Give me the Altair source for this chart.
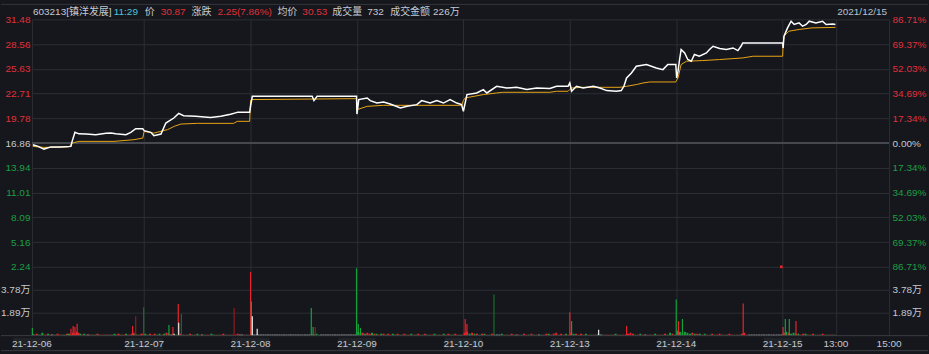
import json
import altair as alt
import pandas as pd

# ---------------- data ----------------
dates = ["21-12-06", "21-12-07", "21-12-08", "21-12-09", "21-12-10", "21-12-13", "21-12-14", "21-12-15"]
session_start = [-13, 240, 480, 720, 960, 1200, 1440, 1680]   # minute index of each session open
session_end = [240, 480, 720, 960, 1200, 1440, 1680, 1800]
time_ticks = [1800, 1920]
time_labels = ["13:00", "15:00"]
x_domain = [-13, 1920]

prev_close = 16.86
price_ticks = [2.24, 5.164, 8.088, 11.012, 13.936, 16.86, 19.784, 22.708, 25.632, 28.556, 31.48]
vol_ticks = [18900, 37800]
vol_max = 56700

# price line (t = minute index, p = price)
d1_t = [-11, 1, 14, 30, 52, 75, 77, 84, 93, 109, 131, 154, 165, 176, 199, 210, 221, 237]
d1_p = [16.67, 16.47, 16.15, 16.41, 16.41, 16.47, 16.94, 18.13, 17.95, 17.92, 17.85, 18.01, 18.04, 17.95, 17.85, 18.13, 18.56, 18.54]
d2_t = [240, 255, 262, 278, 289, 307, 318, 329, 356, 390, 413, 435, 446, 451, 478]
d2_p = [18.33, 18.13, 17.74, 17.93, 19.23, 19.82, 20.37, 20.10, 20.02, 19.87, 20.02, 20.26, 20.43, 20.49, 20.49]
d3_t = [480, 484, 619, 623, 630, 719]
d3_p = [21.20, 22.39, 22.39, 21.88, 22.39, 22.39]
d4_t = [720, 724, 743, 750, 765, 780, 795, 818, 833, 855, 866, 885, 900, 915, 930, 945, 956]
d4_p = [20.29, 22.00, 22.19, 21.88, 21.59, 21.71, 21.48, 21.00, 21.20, 21.40, 21.88, 21.59, 21.88, 21.59, 22.00, 21.59, 21.40]
d5_t = [960, 968, 990, 1005, 1013, 1035, 1058, 1080, 1103, 1125, 1155, 1170, 1196]
d5_p = [20.61, 22.59, 22.78, 23.18, 22.78, 23.57, 23.37, 23.45, 23.18, 23.37, 23.30, 23.57, 23.57]
d6_t = [1200, 1204, 1215, 1230, 1253, 1268, 1283, 1305, 1316, 1322, 1328, 1339, 1350, 1373, 1395, 1410, 1421, 1439]
d6_p = [23.96, 22.98, 23.57, 23.37, 23.57, 23.37, 23.06, 22.98, 23.06, 23.57, 24.55, 25.14, 25.94, 26.14, 25.74, 25.54, 26.14, 26.14]
d7_t = [1441, 1444, 1447, 1451, 1459, 1466, 1474, 1481, 1492, 1508, 1515, 1523, 1538, 1553, 1568, 1579, 1586, 1590, 1680]
d7_p = [24.55, 25.35, 26.53, 27.91, 27.51, 26.73, 26.53, 27.32, 27.12, 27.51, 27.91, 28.30, 28.03, 27.91, 28.10, 27.79, 28.30, 28.69, 28.69]
d8_t = [1681, 1683, 1691, 1699, 1706, 1717, 1725, 1733, 1740, 1755, 1770, 1778, 1793, 1799]
d8_p = [28.10, 29.49, 30.47, 31.26, 30.87, 31.06, 30.67, 30.87, 31.26, 31.06, 31.26, 30.87, 30.94, 30.87]

# average price line
a1_t = [-11, 14, 70, 79, 93, 172, 217, 237]
a1_p = [16.47, 16.35, 16.41, 16.88, 17.06, 17.06, 17.26, 17.45]
a2_t = [240, 262, 293, 308, 323, 360, 442, 450, 478]
a2_p = [18.24, 18.04, 18.45, 18.84, 19.11, 19.19, 19.19, 19.43, 19.43]
a3_t = [480, 484, 719]
a3_p = [21.90, 22.00, 22.11]
a4_t = [720, 743, 780, 956]
a4_p = [20.81, 21.20, 21.32, 21.32]
a5_t = [960, 964, 1005, 1035, 1049, 1155, 1170, 1196]
a5_p = [21.90, 22.19, 22.59, 22.78, 22.86, 22.86, 22.98, 22.98]
a6_t = [1200, 1204, 1230, 1313, 1328, 1350, 1365, 1380, 1439]
a6_p = [23.20, 23.37, 23.45, 23.45, 23.57, 23.77, 23.96, 24.08, 24.08]
a7_t = [1441, 1444, 1451, 1463, 1500, 1538, 1590, 1613, 1680]
a7_p = [24.30, 24.55, 26.14, 26.53, 26.61, 26.73, 26.92, 27.12, 27.12]
a8_t = [1681, 1683, 1694, 1717, 1746, 1799]
a8_p = [28.50, 29.49, 30.08, 30.28, 30.47, 30.53]

# per-minute volume strip, read per day as (height digit, colour letter) pairs; 1 unit = 800 shares
vol_unit = 800
vol_days = [
    "2g1r2r1g1g3g1r1r2g1r1w1g1r2r1r1r1g1g2r2g1r3r2r4r3r2g1r2g1r1w1r1g1r1g2r1g1r1r1g1r1g1r1g2g1r2r1g1r1r2g1r1r2r3r2g1r1g2r2r",
    "2g1g2r1r2r1g2g1r2g3r2r1w2w1g1r2r1g1r1g2r1g1r2g1r1w1g1r1r2g1g1r1g1r2r1g1r1g1r1r2r1w1w1r1g1r",
    "1w1w1w1w1w1w1w1w1w1w1w1w1w1w1w1w1w1w1w1w1w1w1w1w1w1w1w1w2g1g1w1w1w1w1w1w1w1w1w1w1w1w1w1w1w1w",
    "4g3g3r2g3r2r3g2r2g1r2g2r1g2r1r2g1g2r1g1r2r1g1r2g1r1g2r1r1g2r1g1r1r2g1r1g1r2g1r2r1g1g2r1r1g1r",
    "3r4r2g3r2g2r1g2r2g1r1g2r1w1w1w2g1r1g1r2r1g1w1r1g2r1r1g2r1g1r1w1g1r2r2g1r2r3r1g2r1r2g1r",
    "3r2g2r1g2r1r2g1r1g1r1g2r1w1g1r1r1g1r2g1r1g1r1r2r3r2r1g1r2g1r1w1r1g1r2g1r1r1g2r1g3g2r1g",
    "5g4g3g4g3g2g3r2g2r2g1r2g1r1g2r1g1r2r1g1r1g2r1r1g1r1g2r3r1r1w1w1w1w1w1w1w1w1w1w1w1w1w1w",
    "3r4g3r2g3g2r2g1r2r2g1r1g2r1g1r1g2r1r1g1r1g1r",
]
# individual tall volume bars (minute index, volume, colour letter)
spike_t = [-12, 75, 80, 84, 89, 214, 221, 239, 296, 305, 317, 318, 324, 443,
           480, 482, 484, 495, 617, 621, 626, 719, 723, 728, 964, 968, 1029,
           1200, 1204, 1265, 1328, 1440, 1445, 1454, 1591, 1681, 1686, 1695, 1710]
spike_v = [6400, 5600, 8000, 7200, 9900, 8000, 16000, 23300, 8800, 7200, 26000, 10700, 17900, 22700,
           52300, 28100, 16000, 5600, 22700, 7200, 7200, 55500, 9600, 6400, 13700, 9600, 33800,
           19300, 12000, 4800, 8000, 29700, 12000, 13700, 26500, 7200, 13700, 13700, 12000]
spike_c = ["g", "r", "r", "r", "r", "r", "R", "G", "g", "r", "r", "w", "G", "R",
           "r", "g", "w", "w", "g", "g", "R", "g", "g", "g", "r", "r", "G",
           "r", "g", "w", "r", "g", "r", "g", "r", "r", "g", "g", "r"]
# small red marker near the top of the volume pane before the last session
marker_t = [1677]
marker_v = [56700]

header_items = [
    ("603213[镇洋发展]", "#c5c9d0"), ("11:29", "#4cc3d9"), ("价", "#c5c9d0"), ("30.87", "#e0303a"),
    ("涨跌", "#c5c9d0"), ("2.25(7.86%)", "#e0303a"), ("均价", "#c5c9d0"), ("30.53", "#e0303a"),
    ("成交量", "#c5c9d0"), ("732", "#c5c9d0"), ("成交金额", "#c5c9d0"), ("226万", "#c5c9d0"),
]
header_date = "2021/12/15"

# ---------------- styling / layout ----------------
RED = "#e0303a"
GREEN = "#1d9f45"
GRAY = "#c5c9d0"
BG = "#15171c"
GRID = "#2b2e34"
FONT = "Liberation Sans, Noto Sans CJK SC, sans-serif"
BAR_COLORS = {"r": "#e8242c", "g": "#16a03a", "w": "#e6e6e6", "R": "#8e1c1f", "G": "#1d6a2e"}
header_x = [1, 82, 113, 129, 160, 186, 246, 271, 301, 336, 359, 402]
W, HP, HV = 859, 248, 69

price_df = pd.concat([pd.DataFrame({"t": t, "price": p}) for t, p in [
    (d1_t, d1_p), (d2_t, d2_p), (d3_t, d3_p), (d4_t, d4_p),
    (d5_t, d5_p), (d6_t, d6_p), (d7_t, d7_p), (d8_t, d8_p)]], ignore_index=True)
avg_df = pd.concat([pd.DataFrame({"t": t, "avg": p}) for t, p in [
    (a1_t, a1_p), (a2_t, a2_p), (a3_t, a3_p), (a4_t, a4_p),
    (a5_t, a5_p), (a6_t, a6_p), (a7_t, a7_p), (a8_t, a8_p)]], ignore_index=True)

rows = []
for s, e, code in zip(session_start, session_end, vol_days):
    pairs = [(int(code[i]), code[i + 1]) for i in range(0, len(code), 2)]
    n = len(pairs)
    for i, (h, c) in enumerate(pairs):
        rows.append({"t": s + (i + 0.5) * (e - s) / n, "v": h * vol_unit, "v0": 0, "c": BAR_COLORS[c]})
vol_df = pd.DataFrame(rows)
spike_df = pd.DataFrame({"t": spike_t, "v": spike_v, "v0": 0, "c": [BAR_COLORS[c] for c in spike_c]})
marker_df = pd.DataFrame({"t": marker_t, "v": marker_v})

x_values = session_start + time_ticks
x_labels = dates + time_labels
label_df = pd.DataFrame({"t": x_values, "label": x_labels})
box_df = pd.DataFrame({"a": [s - 42 for s in session_start], "b": [s + 42 for s in session_start]})

xs = alt.Scale(domain=x_domain, nice=False, zero=False)
ys = alt.Scale(domain=[price_ticks[0], price_ticks[-1]], nice=False, zero=False)
vs = alt.Scale(domain=[0, vol_max], nice=False, zero=False)

price_color = {"condition": [{"test": f"datum.value > {prev_close + 0.01}", "value": RED},
                             {"test": f"datum.value < {prev_close - 0.01}", "value": GREEN}],
               "value": GRAY}

x_grid = alt.Axis(values=x_values, grid=True, gridColor=GRID, labels=False, ticks=False,
                  domain=False, title=None)
y_left = alt.Axis(values=price_ticks, format=".2f", grid=True, gridColor=GRID, ticks=False, domain=False,
                  title=None, labelPadding=2, labelFontSize=10, labelFont=FONT, labelColor=price_color,
                  minExtent=31, maxExtent=31)
y_right = alt.Axis(orient="right", values=price_ticks, grid=False, ticks=False, domain=False, title=None,
                   labelExpr=f"format(abs(datum.value - {prev_close}) / {prev_close} * 100, '.2f') + '%'",
                   labelPadding=3, labelFontSize=10, labelFont=FONT, labelColor=price_color,
                   minExtent=36, maxExtent=36)
v_left = alt.Axis(values=vol_ticks, labelExpr="format(datum.value / 10000, '.2f') + '万'", grid=True,
                  gridColor=GRID, ticks=False, domain=False, title=None, labelPadding=2, labelFontSize=10,
                  labelFont=FONT, labelColor=GRAY, minExtent=31, maxExtent=31)
v_right = alt.Axis(orient="right", values=vol_ticks, labelExpr="format(datum.value / 10000, '.2f') + '万'",
                   grid=False, ticks=False, domain=False, title=None, labelPadding=3, labelFontSize=10,
                   labelFont=FONT, labelColor=GRAY, minExtent=36, maxExtent=36)

one = pd.DataFrame({"k": [0]})

zero_rule = alt.Chart(pd.DataFrame({"p": [prev_close]})).mark_rule(color="#45484e", strokeWidth=2).encode(
    y=alt.Y("p:Q", scale=ys, axis=None))
avg_line = alt.Chart(avg_df).mark_line(color="#e8a416", strokeWidth=1).encode(
    x=alt.X("t:Q", scale=xs, axis=x_grid), y=alt.Y("avg:Q", scale=ys, axis=y_right))
price_line = alt.Chart(price_df).mark_line(color="#ffffff", strokeWidth=1.5).encode(
    x=alt.X("t:Q", scale=xs, axis=x_grid), y=alt.Y("price:Q", scale=ys, axis=y_left))

top_line = alt.Chart(one).mark_rule(color="#33363c").encode(
    x=alt.value(-31), x2=alt.value(898), y=alt.value(-15))
header_layers = [
    alt.Chart(one).mark_text(
        text=txt, color=col, align="left", baseline="middle", fontSize=10, font=FONT
    ).encode(x=alt.value(hx), y=alt.value(-7))
    for (txt, col), hx in zip(header_items, header_x)
]
date_text = alt.Chart(one).mark_text(
    text=header_date, color="#b8c0cc", align="right", baseline="middle", fontSize=10, font=FONT
).encode(x=alt.value(857), y=alt.value(-7))

price_chart = alt.layer(zero_rule, avg_line, price_line, top_line, date_text, *header_layers).resolve_scale(
    y="independent").properties(width=W, height=HP)

boxes = alt.Chart(box_df).mark_rect(color="#202328").encode(
    x=alt.X("a:Q", scale=xs, axis=x_grid), x2="b:Q", y=alt.value(HV + 2), y2=alt.value(HV + 14))
tick_text = alt.Chart(label_df).mark_text(color=GRAY, fontSize=10, font=FONT, baseline="middle").encode(
    x=alt.X("t:Q", scale=xs, axis=x_grid), y=alt.value(HV + 8), text="label:N")
base_bars = alt.Chart(vol_df).mark_rule(strokeWidth=2).encode(
    x=alt.X("t:Q", scale=xs, axis=x_grid), y=alt.Y("v:Q", scale=vs, axis=v_left), y2="v0:Q",
    color=alt.Color("c:N", scale=None))
spikes = alt.Chart(spike_df).mark_rule(strokeWidth=1.2).encode(
    x=alt.X("t:Q", scale=xs, axis=x_grid), y=alt.Y("v:Q", scale=vs, axis=v_right), y2="v0:Q",
    color=alt.Color("c:N", scale=None))
marker = alt.Chart(marker_df).mark_square(color="#e8242c", size=7, opacity=1).encode(
    x=alt.X("t:Q", scale=xs, axis=x_grid), y=alt.Y("v:Q", scale=vs, axis=None))
line_mid = alt.Chart(one).mark_rule(color="#3a3d43").encode(
    x=alt.value(-31), x2=alt.value(898), y=alt.value(HV))
line_bot = alt.Chart(one).mark_rule(color="#3a3d43").encode(
    x=alt.value(-31), x2=alt.value(898), y=alt.value(HV + 15))

vol_chart = alt.layer(boxes, tick_text, base_bars, spikes, marker, line_mid, line_bot).resolve_scale(
    y="independent").properties(width=W, height=HV)

chart = alt.vconcat(price_chart, vol_chart, spacing=0, bounds="flush").configure(
    background=BG, padding={"left": 0, "top": 3, "right": 0, "bottom": 3}, font=FONT
).configure_view(stroke=None)

chart.save("out.html", embed_options={"renderer": "svg", "actions": False})
